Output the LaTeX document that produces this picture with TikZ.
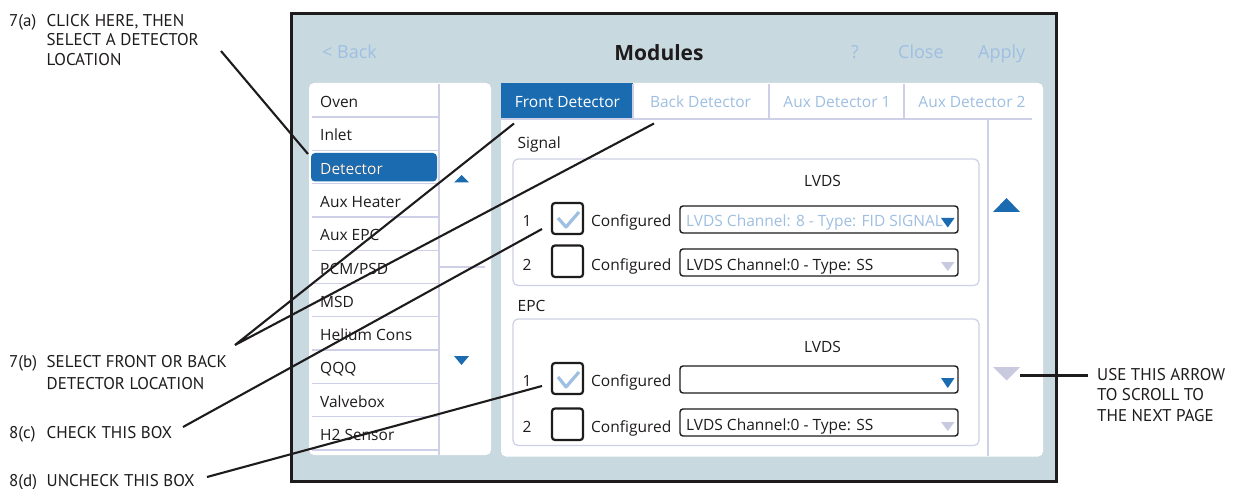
\documentclass[tikz,border=0pt]{standalone}
\usepackage{fontspec}
\setmainfont{Open Sans}
\newfontfamily\annfont{PT Sans}
\definecolor{bgc}{HTML}{C9D9E0}
\definecolor{uiblue}{HTML}{1B6BB0}
\definecolor{ltblue}{HTML}{9EBFE2}
\definecolor{lav}{HTML}{CDD0E6}
\definecolor{tri}{HTML}{C9CADF}
\definecolor{ink}{HTML}{1E1B1C}
\begin{document}
\begin{tikzpicture}[x=1pt,y=-1pt,
  ui/.style={font=\fontsize{15.5}{18}\selectfont, text=ink, inner sep=0pt, anchor=base west},
  uic/.style={ui, anchor=base},
  hdr/.style={font=\fontsize{18}{21}\selectfont, text=ltblue, inner sep=0pt, anchor=base west},
  ann/.style={font=\annfont\fontsize{17}{20}\selectfont, text=ink, inner sep=0pt, anchor=base west},
  sep/.style={draw=lav, line width=1.3pt},
  grp/.style={draw=lav, line width=1.2pt, rounded corners=5pt},
  chk/.style={draw=ink, line width=2.2pt, rounded corners=3pt, fill=white},
  drop/.style={draw=ink, line width=1.4pt, rounded corners=3pt, fill=white},
  tick/.style={draw=ltblue, line width=3.2pt, line join=round},
  leader/.style={draw=ink, line width=2.1pt},
]
\useasboundingbox (0,0) rectangle (1245,489);
% frame
\draw[fill=bgc, draw=ink, line width=3pt] (291.5,13.5) rectangle (1056,481.5);
% header
\node[hdr] (back) at (322,59) {< Back};
\node[font=\bfseries\fontsize{21}{24}\selectfont, text=ink, inner sep=0pt, anchor=base] (title) at (659,61) {Modules};
\node[hdr] (help) at (851,59) {?};
\node[hdr] (close) at (898,59) {Close};
\node[hdr] (apply) at (978,59) {Apply};
% left panel
\fill[white, rounded corners=5pt] (309,83) rectangle (491,455);
\draw[sep] (439,84) -- (439,455);
\draw[sep] (439,267) -- (485,267);
\foreach \k in {0,...,10} { \draw[sep] (312,117+33.3*\k) -- (438,117+33.3*\k); }
\fill[uiblue, rounded corners=4pt] (311,153) rectangle (437,181.5);
\foreach \t [count=\i from 0] in {Oven,Inlet,Detector,Aux Heater,Aux EPC,PCM/PSD,MSD,Helium Cons,QQQ,Valvebox,H2 Sensor} {
  \node[ui] (item\i) at (320,107.5+33.3*\i) {\t};
}
\node[ui, text=white] at (item2.base west) {Detector};
\fill[uiblue] (454,182.5) -- (469,182.5) -- (461.5,175) -- cycle;
\fill[uiblue] (454,356) -- (469,356) -- (461.5,365) -- cycle;
% right panel
\fill[white, rounded corners=5pt] (501,83) rectangle (1043,456.5);
\fill[uiblue] (501,83) rectangle (633,119);
\draw[sep] (501,119) -- (1032,119);
\draw[sep] (633,84) -- (633,119);
\draw[sep] (769,84) -- (769,119);
\draw[sep] (904,84) -- (904,119);
\draw[sep] (988,119) -- (988,456);
\node[uic, text=white] (tabF) at (567.5,108) {Front Detector};
\node[uic, text=ltblue] (tabB) at (700.5,108) {Back Detector};
\node[uic, text=ltblue] (tabA1) at (837,108) {Aux Detector 1};
\node[uic, text=ltblue] (tabA2) at (972,108) {Aux Detector 2};
\fill[uiblue] (993,212) -- (1020,212) -- (1006.5,198) -- cycle;
\fill[tri] (993,367) -- (1020,367) -- (1006.5,380.5) -- cycle;
% Signal group
\node[ui] (signal) at (517.5,149) {Signal};
\draw[grp] (513,159) rectangle (979,285.5);
\node[uic] (lvds1) at (822.5,186.5) {LVDS};
\node[uic] (n1) at (527,226.5) {1};
\node[uic] (n2) at (527,270) {2};
\draw[chk] (552,203) rectangle (583,234);
\draw[tick] (558,218) -- (566,227) -- (579,212);
\draw[chk] (552,245.5) rectangle (583,277);
\node[ui] (cf1) at (591,226.5) {Configured};
\node[ui] (cf2) at (591,270) {Configured};
\draw[drop] (680,206) rectangle (958,233);
\begin{scope}
  \clip (681,207) rectangle (945,232);
  \node[ui, text=ltblue] (dd1) at (686,226.5) {LVDS Channel: 8 - Type: FID SIGNAL};
\end{scope}
\fill[uiblue] (941,218) -- (954.5,218) -- (947.75,227.5) -- cycle;
\draw[drop] (680,249) rectangle (958,276);
\node[ui] (dd2) at (686,270) {LVDS Channel:0 - Type: SS};
\fill[tri] (941,262) -- (954.5,262) -- (947.75,271) -- cycle;
% EPC group
\node[ui] (epc) at (517.5,311.5) {EPC};
\draw[grp] (513,319) rectangle (979,445.5);
\node[uic] (lvds2) at (822.5,352) {LVDS};
\node[uic] (n3) at (527,386.5) {1};
\node[uic] (n4) at (527,432.5) {2};
\draw[chk] (552,363) rectangle (583,394);
\draw[tick] (558,377) -- (566,387) -- (579,372);
\draw[chk] (552,408.5) rectangle (583,440);
\node[ui] (cf3) at (591,386.5) {Configured};
\node[ui] (cf4) at (591,432.5) {Configured};
\draw[drop] (680,366) rectangle (958,393);
\fill[uiblue] (941,378) -- (954.5,378) -- (947.75,388) -- cycle;
\draw[drop] (680,409) rectangle (958,436);
\node[ui] (dd4) at (686,430) {LVDS Channel:0 - Type: SS};
\fill[tri] (941,422) -- (954.5,422) -- (947.75,431) -- cycle;
% annotations
\node[ann] (a7) at (9,26.5) {7(a)};
\node[ann] (a7t1) at (46.5,26.5) {CLICK HERE, THEN};
\node[ann] (a7t2) at (46.5,46) {SELECT A DETECTOR};
\node[ann] (a7t3) at (46.5,65.5) {LOCATION};
\node[ann] (b7) at (9,367.5) {7(b)};
\node[ann] (b7t1) at (46.5,367.5) {SELECT FRONT OR BACK};
\node[ann] (b7t2) at (46.5,389.5) {DETECTOR LOCATION};
\node[ann] (c8) at (9,438.5) {8(c)};
\node[ann] (c8t) at (46.5,438.5) {CHECK THIS BOX};
\node[ann] (d8) at (9,486) {8(d)};
\node[ann] (d8t) at (46.5,486) {UNCHECK THIS BOX};
\node[ann] (r1) at (1097,380) {USE THIS ARROW};
\node[ann] (r2) at (1097,400.5) {TO SCROLL TO};
\node[ann] (r3) at (1097,421) {THE NEXT PAGE};
% leader endpoints
\coordinate (pa1) at (221,51);   \coordinate (pa2) at (308,154);
\coordinate (pb0) at (235,345);  \coordinate (pbF) at (514,123.5); \coordinate (pbB) at (654,123.5);
\coordinate (pc1) at (183,427);  \coordinate (pc2) at (542,229);
\coordinate (pd1) at (207,477);  \coordinate (pd2) at (542,386);
\coordinate (pr1) at (1020,375.5); \coordinate (pr2) at (1088,375.5);
\draw[leader] (pa1) -- (pa2);
\draw[leader] (pbF) -- (pb0) -- (pbB);
\draw[leader] (pc1) -- (pc2);
\draw[leader] (pd1) -- (pd2);
\draw[leader] (pr1) -- (pr2);
\end{tikzpicture}
\end{document}
